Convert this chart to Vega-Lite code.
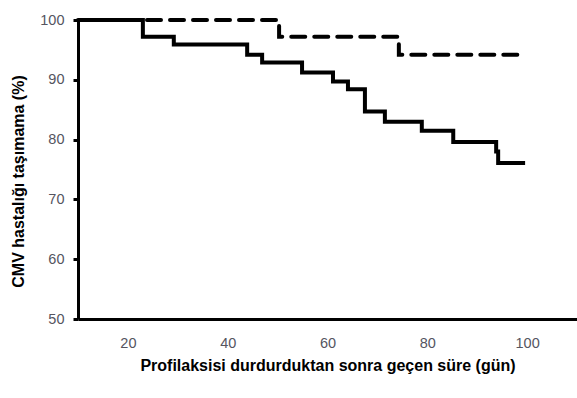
{
  "$schema": "https://vega.github.io/schema/vega-lite/v6.json",
  "width": 499,
  "height": 299,
  "autosize": {"type": "none"},
  "padding": {"left": 78, "top": 20, "right": 0, "bottom": 79},
  "background": "white",
  "config": {
    "view": {"stroke": null},
    "axis": {
      "labelFont": "Liberation Sans",
      "labelFontSize": 14.5,
      "labelColor": "#55555f",
      "titleFont": "Liberation Sans",
      "titleFontSize": 16,
      "titleFontWeight": "bold",
      "titleColor": "black",
      "domainColor": "black",
      "domainWidth": 3,
      "tickColor": "black",
      "tickWidth": 3,
      "grid": false
    }
  },
  "datasets": {
    "km": [
      {"group": "A", "day": 10, "pct": 100},
      {"group": "A", "day": 23.0, "pct": 97.2},
      {"group": "A", "day": 29.2, "pct": 95.9},
      {"group": "A", "day": 43.9, "pct": 94.2},
      {"group": "A", "day": 46.9, "pct": 92.9},
      {"group": "A", "day": 54.9, "pct": 91.2},
      {"group": "A", "day": 61.1, "pct": 89.7},
      {"group": "A", "day": 64.1, "pct": 88.4},
      {"group": "A", "day": 67.5, "pct": 84.7},
      {"group": "A", "day": 71.5, "pct": 83.0},
      {"group": "A", "day": 78.9, "pct": 81.5},
      {"group": "A", "day": 85.2, "pct": 79.6},
      {"group": "A", "day": 93.8, "pct": 78.0},
      {"group": "A", "day": 94.2, "pct": 76.1},
      {"group": "A", "day": 99.6, "pct": 76.1},
      {"group": "B", "day": 10, "pct": 100},
      {"group": "B", "day": 50.3, "pct": 97.2},
      {"group": "B", "day": 74.3, "pct": 94.2},
      {"group": "B", "day": 99.8, "pct": 94.2}
    ]
  },
  "data": {"name": "km"},
  "encoding": {
    "x": {
      "field": "day",
      "type": "quantitative",
      "scale": {"domain": [10, 110], "nice": false, "zero": false},
      "axis": {
        "values": [20, 40, 60, 80, 100],
        "ticks": false,
        "labelPadding": 17,
        "title": "Profilaksisi durdurduktan sonra geçen süre (gün)",
        "titlePadding": 8
      }
    },
    "y": {
      "field": "pct",
      "type": "quantitative",
      "scale": {"domain": [50, 100], "nice": false, "zero": false},
      "axis": {
        "values": [50, 60, 70, 80, 90, 100],
        "tickSize": 5,
        "labelPadding": 9,
        "title": "CMV hastalığı taşımama (%)",
        "titleX": -60,
        "titleY": 161,
        "titleAlign": "center",
        "titleBaseline": "middle",
        "titleAngle": -90
      }
    }
  },
  "layer": [
    {
      "transform": [{"filter": "datum.group === 'B'"}],
      "mark": {
        "type": "line",
        "interpolate": "step-after",
        "color": "black",
        "strokeWidth": 4,
        "strokeDash": [14, 9],
        "strokeCap": "round",
        "clip": false
      }
    },
    {
      "transform": [{"filter": "datum.group === 'A'"}],
      "mark": {
        "type": "line",
        "interpolate": "step-after",
        "color": "black",
        "strokeWidth": 4,
        "clip": false
      }
    }
  ]
}
